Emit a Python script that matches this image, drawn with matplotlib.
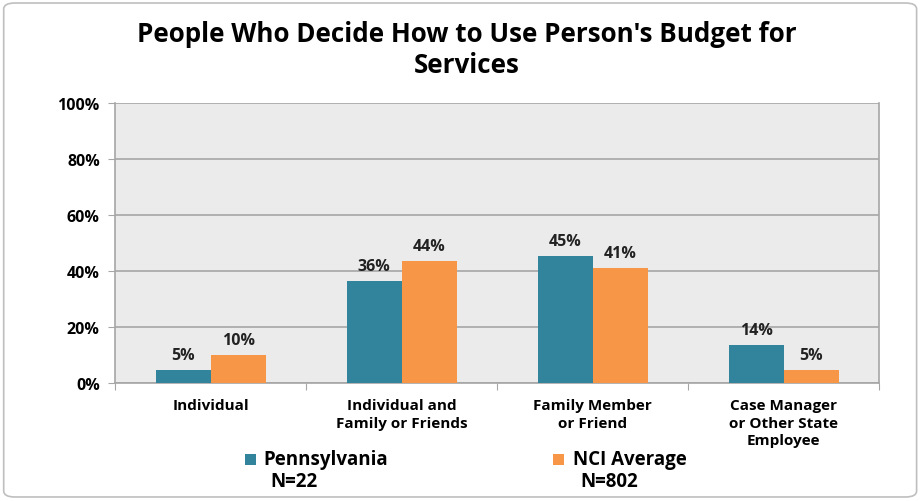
import numpy as np
import matplotlib.pyplot as plt
from matplotlib.patches import FancyBboxPatch, Rectangle

categories = ["Individual", "Individual and\nFamily or Friends",
              "Family Member\nor Friend", "Case Manager\nor Other State\nEmployee"]
pennsylvania = [4.55, 36.36, 45.45, 13.64]
nci_average = [10.0, 43.5, 41.0, 4.8]
series_names = ["Pennsylvania", "NCI Average"]
series_n = ["N=22", "N=802"]

teal = "#31849B"
orange = "#F79646"
plt.rcParams['font.family'] = ['Open Sans', 'DejaVu Sans']

fig = plt.figure(figsize=(9.24, 5.02), dpi=100)
fig.patches.append(FancyBboxPatch((0.004, 0.008), 0.988, 0.984, boxstyle="round,pad=0,rounding_size=0.012",
                                  transform=fig.transFigure, fc="none", ec="#BFBFBF", lw=1.2))

ax = fig.add_axes([0.1245, 0.235, 0.827, 0.558])
ax.set_facecolor("#EBEBEB")

x = np.arange(len(categories))
w = 0.288
b1 = ax.bar(x - w / 2, pennsylvania, w, color=teal, zorder=3)
b2 = ax.bar(x + w / 2, nci_average, w, color=orange, zorder=3)

for bars, vals in [(b1, pennsylvania), (b2, nci_average)]:
    for r, v in zip(bars, vals):
        ax.annotate(f"{round(v):d}%", (r.get_x() + r.get_width() / 2, v), xytext=(0, 5),
                    textcoords="offset points", ha="center", va="bottom",
                    fontsize=11.5, fontweight="bold", color="#222222")

ax.set_xlim(-0.5, len(categories) - 0.5)
ax.set_ylim(0, 100)
ax.set_yticks(range(0, 101, 20))
ax.set_yticklabels([f"{t}%" for t in range(0, 101, 20)], fontsize=11.5, fontweight="bold")
ax.yaxis.grid(True, color="#A6A6A6", lw=1.2, zorder=1)
ax.set_xticks(np.arange(-0.5, len(categories), 1))
ax.set_xticklabels([])
ax.set_xticks(x, minor=True)
ax.set_xticklabels(categories, minor=True, fontsize=11, fontweight="bold", linespacing=1.3, va="top")
ax.tick_params(axis="x", which="minor", length=0, pad=11)
ax.tick_params(axis="x", which="major", length=5, color="#A6A6A6")
ax.tick_params(axis="y", length=5, color="#A6A6A6", pad=6)
for s in ["top"]:
    ax.spines[s].set_visible(False)
for s in ["left", "bottom", "right"]:
    ax.spines[s].set_color("#A6A6A6")
    ax.spines[s].set_linewidth(1.2)

fig.text(0.505, 1 - 50 / 502, "People Who Decide How to Use Person's Budget for\nServices",
         ha="center", va="center", fontsize=18.7, fontweight="bold", linespacing=1.2)

# legend
for (sx, tx), name, n, col in zip([(0.265, 0.285), (0.598, 0.620)], series_names, series_n, [teal, orange]):
    fig.patches.append(Rectangle((sx, 1 - 466 / 502), 11 / 924, 11 / 502, transform=fig.transFigure,
                                 fc=col, ec="none"))
    fig.text(tx, 1 - 460 / 502, name, ha="left", va="center", fontsize=13.5, fontweight="bold")
    fig.text(tx + 0.008, 1 - 482 / 502, n, ha="left", va="center", fontsize=13.5, fontweight="bold")

fig.savefig("out.png", dpi=100)
